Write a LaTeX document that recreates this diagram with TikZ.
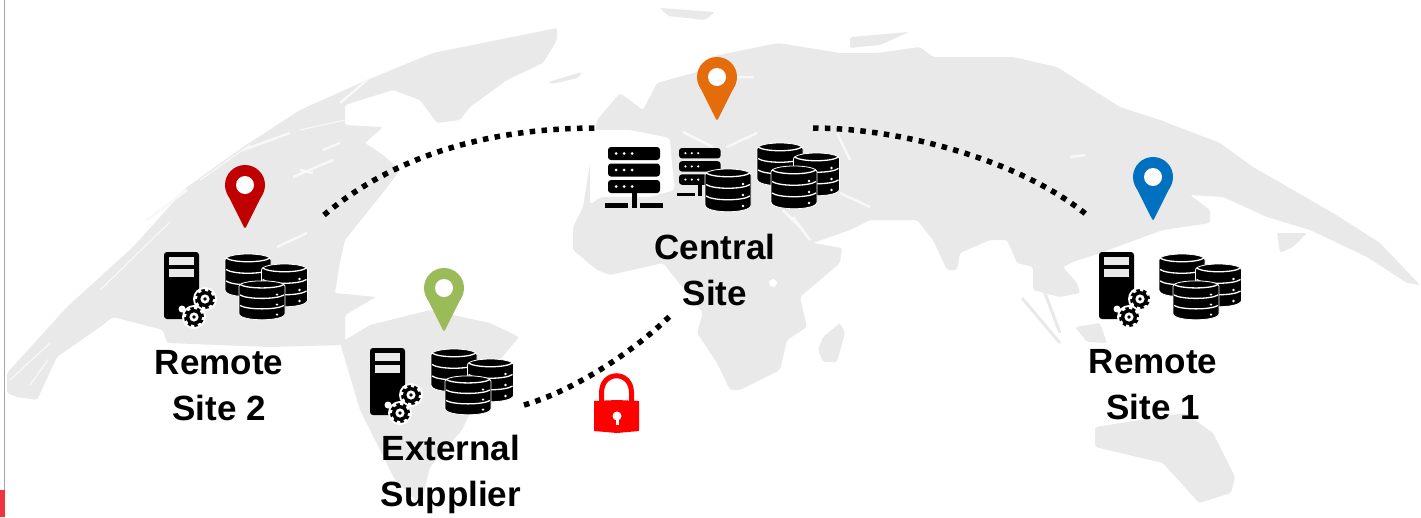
\documentclass[tikz,border=0pt]{standalone}
\usepackage{fontspec}
\setmainfont{Liberation Sans}
\usepackage{xcolor}
\usetikzlibrary{positioning}
\definecolor{mapgray}{RGB}{233,233,233}
\definecolor{pinred}{RGB}{192,0,0}
\definecolor{pinorange}{RGB}{228,108,10}
\definecolor{pingreen}{RGB}{155,187,89}
\definecolor{pinblue}{RGB}{0,112,192}
\definecolor{edgered}{RGB}{239,51,64}
\tikzset{
  pics/sitepin/.style={code={
    \fill [#1] (0,-44) circle (20pt);
    \fill [#1, rounded corners=1.5pt] (0,0) -- (-18.6,-37) -- (18.6,-37) -- cycle;
    \fill [white] (0,-44) circle (9pt);
  }},
  pics/dbcyl/.style={code={
    \filldraw [fill=black, draw=white, line width=0.8pt] (0,6) .. controls (0,-2) and (46,-2) .. (46,6) -- (46,36) .. controls (46,45) and (0,45) .. (0,36) -- cycle;
    \foreach \tier in {4,15.5,27} {
      \draw [white, line width=1.3pt] (1,\tier) .. controls (8,\tier+5) and (38,\tier+5) .. (45,\tier);
    }
    \foreach \tier in {15,26,37} {
      \fill [white] (38,\tier) circle (1.3pt);
    }
  }},
  pics/dbstack/.style={code={
    \pic at (0,0) {dbcyl};
    \pic at (36.5,10) {dbcyl};
    \pic [yscale=#1] at (14,66-43*#1) {dbcyl};
  }},
  pics/gearwheel/.style={code={
    \fill [white] (0,0) circle (12pt);
    \draw [black, line width=3pt, dash pattern=on 3.34pt off 3.34pt] (0,0) circle (8.5pt);
    \fill [black] (0,0) circle (8pt);
    \fill [white] (0,0) circle (4.6pt);
    \fill [black] (0,0) circle (1.8pt);
  }},
  pics/towerserver/.style={code={
    \fill [black, rounded corners=3pt] (0,0) rectangle (35,67);
    \fill [mapgray] (5,5) rectangle (30,13);
    \fill [mapgray] (5,17) rectangle (30,25);
    \fill [white] (18,57) circle (3.5pt);
    \pic at (41,47) {gearwheel};
    \pic at (30,65) {gearwheel};
  }},
  pics/serverrack/.style={code={
    \foreach \bar in {0,16.5,33} {
      \fill [black, rounded corners=3pt] (0,\bar) rectangle (52,\bar+13);
      \foreach \dotx in {8,16,24} {
        \fill [white] (\dotx,\bar+6.5) circle (1.5pt);
      }
    }
    \fill [black] (24,46) rectangle (29,56);
    \fill [black] (-3,56) rectangle (20,60.5);
    \fill [black] (24,56) rectangle (29,60.5);
    \fill [black] (32,56) rectangle (55,60.5);
  }}
}

\begin{document}
\begin{tikzpicture}[x=1pt, y=-1pt, node distance=438pt]
    \tikzstyle{sitelabel} = [align=center, inner sep=0pt, font=\fontsize{35}{46}\selectfont\bfseries]
    \tikzstyle{sitelink} = [black, line width=5.5pt, dash pattern=on 5.5pt off 6.35pt]
    \tikzstyle{land} = [fill=mapgray, rounded corners=2pt]
    \tikzstyle{strait} = [white!70!mapgray, line width=2.5pt]

    \useasboundingbox (0,0) rectangle (1421,517);

    % Americas
    \fill [land] (7,393) -- (7,373) -- (67,307) -- (133,247) -- (187,187) -- (243,147) -- (300,110) -- (367,80) -- (433,53) -- (557,28) -- (557,40) -- (543,63) -- (507,80) -- (470,107) -- (460,120) -- (437,123) -- (420,100) -- (393,90) -- (345,105) -- (345,125) -- (383,127) -- (365,143) -- (383,155) -- (400,170) -- (385,190) -- (377,200) -- (345,240) -- (340,262) -- (335,293) -- (376,297) -- (345,315) -- (345,345) -- (270,347) -- (167,343) -- (163,330) -- (113,317) -- (100,327) -- (57,357) -- (37,400) -- (17,397) -- cycle;
    \fill [land] (340,343) -- (370,325) -- (430,310) -- (490,323) -- (519,337) -- (489,373) -- (462,430) -- (430,467) -- (421,505) -- (395,480) -- (360,410) -- cycle;
    \fill [land] (548,82) -- (582,72) -- (578,78) -- (552,84) -- cycle;
    \draw [strait] (147,220) -- (187,190) (243,150) -- (290,133) (277,247) -- (307,233) (293,177) -- (333,160) (323,150) -- (340,143) (300,170) -- (313,173) (340,103) -- (367,80);
    \draw [strait, line width=1.2pt] (10,380) -- (50,343) (30,385) -- (48,360) (100,290) -- (170,222) (200,180) -- (250,145) (300,130) -- (345,120);
    % Eurasia and Africa
    \fill [land] (660,8) -- (715,12) -- (705,20) -- (668,16) -- cycle;
    \fill [land] (850,37) -- (909,32) -- (880,45) -- (850,48) -- cycle;
    \fill [land] (573,227) -- (583,207) -- (597,120) -- (620,93) -- (643,110) -- (657,83) -- (697,72) -- (710,57) -- (778,43) -- (840,53) -- (877,53) -- (920,47) -- (933,57) -- (1013,57) -- (1057,67) -- (1093,90) -- (1120,107) -- (1160,120) -- (1220,143) -- (1253,167) -- (1293,190) -- (1333,213) -- (1380,243) -- (1420,285) -- (1407,283) -- (1367,257) -- (1310,230) -- (1267,217) -- (1223,197) -- (1190,195) -- (1210,210) -- (1210,223) -- (1163,230) -- (1100,253) -- (1073,262) -- (1063,267) -- (1077,283) -- (1080,293) -- (1060,297) -- (1033,290) -- (1033,267) -- (1017,263) -- (1007,240) -- (990,240) -- (960,253) -- (957,270) -- (947,270) -- (933,240) -- (917,220) -- (870,220) -- (850,230) -- (813,243) -- (842,248) -- (840,263) -- (800,297) -- (807,327) -- (787,340) -- (780,370) -- (740,390) -- (730,390) -- (717,363) -- (697,333) -- (703,313) -- (663,263) -- (610,275) -- (597,270) -- (573,250) -- cycle;
    \fill [white, rounded corners=4pt] (590,130) -- (630,130) -- (670,138) -- (672,165) -- (675,190) -- (650,197) -- (600,197) -- (590,205) -- cycle;
    \draw [strait] (683,132) -- (713,147) (727,147) -- (757,133) (783,210) -- (803,230) (837,133) -- (850,160) (840,193) -- (870,207) (737,77) -- (753,77) (793,217) -- (810,240) (1070,157) -- (1085,155);
    \fill [white] (773,283) circle (4pt);
    \fill [land] (840,323) -- (845,333) -- (837,362) -- (823,362) -- (818,350) -- (823,337) -- cycle;
    \fill [land] (1277,233) -- (1307,233) -- (1293,247) -- (1280,253) -- cycle;
    \fill [land] (1075,327) -- (1100,323) -- (1107,343) -- (1087,342) -- cycle;
    \draw [mapgray, line width=3pt] (1022,298) -- (1060,343) (1040,280) -- (1060,333);
    \fill [land] (1095,427) -- (1095,447) -- (1163,463) -- (1199,503) -- (1231,493) -- (1235,477) -- (1213,433) -- (1185,413) -- cycle;

    % Page edge
    \draw [gray!70, line width=1pt] (4,0) -- (4,490);
    \fill [edgered] (0,490) rectangle (5,517);

    % Site labels
    \node [sitelabel] (central_site) at (715,269.5) {Central\\Site};
    \node [sitelabel, right of=central_site, yshift=-115pt] (remote_one) {Remote\\Site 1};
    \node [sitelabel, left of=central_site, xshift=-58pt, yshift=-116pt] (remote_two) {Remote\\Site 2};
    \node [sitelabel, left of=central_site, xshift=174pt, yshift=-204.5pt] (external) {External\\Supplier};

    % Central site
    \pic at (717,121) {sitepin=pinorange};
    \pic at (608,147) {serverrack};
    \pic [scale=0.8] at (679,148) {serverrack};
    \pic at (705,169) {dbcyl};
    \pic at (757,143) {dbstack=1};

    % Remote site 2
    \pic at (245,229) {sitepin=pinred};
    \pic at (164,252) {towerserver};
    \pic at (225,254) {dbstack=0.91};

    % External supplier
    \pic at (444,332) {sitepin=pingreen};
    \pic at (370,348) {towerserver};
    \pic at (431,349) {dbstack=0.91};

    % Remote site 1
    \pic at (1153,221) {sitepin=pinblue};
    \pic at (1099,252) {towerserver};
    \pic at (1159,254) {dbstack=0.91};

    % Links
    \coordinate (remote_two_link) at (324,215);
    \coordinate (central_west) at (597,128);
    \coordinate (central_east) at (813,128);
    \coordinate (remote_one_link) at (1087,215);
    \coordinate (external_link) at (524,405);
    \coordinate (central_south) at (670,316);
    \draw [sitelink] (remote_two_link) .. controls (395,155) and (490,128) .. (central_west);
    \draw [sitelink] (central_east) .. controls (900,128) and (1020,160) .. (remote_one_link);
    \draw [sitelink] (external_link) .. controls (570,392) and (630,355) .. (central_south);

    % Padlock
    \draw [red, line width=5pt] (601.5,403) -- (601.5,393) .. controls (601.5,370) and (631.5,370) .. (631.5,393) -- (631.5,403);
    \fill [red] (594,401) -- (617,400) -- (639,401) -- (639,431) -- (617,433) -- (594,431) -- cycle;
    \fill [white] (617,416) circle (4.5pt);
    \fill [white] (615.5,416) rectangle (618.5,425);
\end{tikzpicture}
\end{document}
